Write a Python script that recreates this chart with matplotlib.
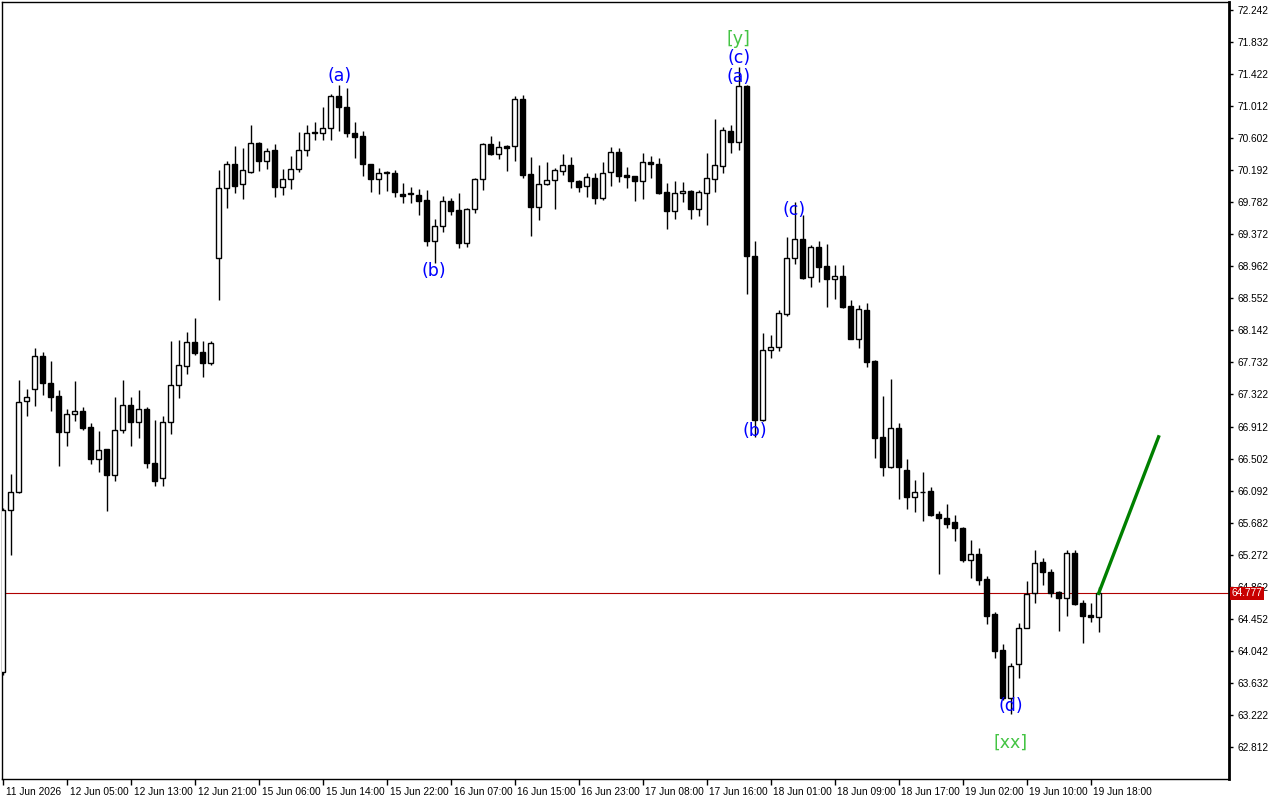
import numpy as np
import matplotlib as mpl
import matplotlib.pyplot as plt
import matplotlib.transforms as mtransforms

# Hourly candles, one per bar (bar 0 is the first candle at the left edge)
opens = [63.77, 65.84, 66.07, 67.24, 67.39, 67.81, 67.47, 67.30, 66.84, 67.07,
	67.11, 66.90, 66.50, 66.62, 66.29, 66.87, 67.19, 66.97, 67.13, 66.44,
	66.25, 66.97, 67.44, 67.69, 67.99, 67.86, 67.72, 69.07, 69.96, 70.27,
	70.01, 70.17, 70.54, 70.31, 70.45, 69.98, 70.08, 70.21, 70.45, 70.67,
	70.67, 70.73, 71.14, 71.00, 70.67, 70.63, 70.27, 70.08, 70.16, 70.16,
	69.89, 69.89, 69.87, 69.81, 69.29, 69.48, 69.80, 69.68, 69.26, 69.70,
	70.08, 70.53, 70.40, 70.50, 70.50, 71.10, 70.14, 69.72, 70.01, 70.07,
	70.18, 70.26, 70.05, 69.99, 70.09, 69.84, 70.17, 70.42, 70.13, 70.12,
	70.05, 70.30, 70.27, 69.91, 69.67, 69.90, 69.93, 69.70, 69.90, 70.08,
	70.25, 70.69, 70.55, 71.27, 69.10, 66.99, 67.89, 67.93, 68.35, 69.07,
	69.31, 68.82, 69.21, 68.97, 68.80, 68.84, 68.45, 68.03, 68.40, 67.75,
	66.78, 66.39, 66.89, 66.36, 66.01, 66.07, 66.09, 65.79, 65.74, 65.69,
	65.62, 65.21, 65.28, 64.96, 64.51, 64.05, 63.44, 63.87, 64.33, 64.78,
	65.18, 65.05, 64.79, 64.72, 65.30, 64.66, 64.50, 64.47]
highs = [65.87, 66.30, 67.51, 67.39, 67.92, 67.86, 67.75, 67.38, 67.13, 67.49,
	67.16, 66.96, 66.85, 66.63, 67.29, 67.51, 67.29, 67.38, 67.16, 66.99,
	67.05, 68.01, 68.02, 68.12, 68.30, 68.01, 68.01, 70.19, 70.31, 70.50,
	70.48, 70.77, 70.55, 70.48, 70.53, 70.21, 70.37, 70.68, 70.77, 70.81,
	71.00, 71.17, 71.28, 71.24, 70.81, 70.69, 70.27, 70.22, 70.18, 70.19,
	70.03, 69.98, 69.95, 69.94, 69.57, 69.86, 69.84, 69.90, 69.71, 70.09,
	70.54, 70.63, 70.57, 70.51, 71.14, 71.15, 70.36, 70.26, 70.30, 70.22,
	70.40, 70.36, 70.07, 70.16, 70.16, 70.30, 70.49, 70.48, 70.23, 70.12,
	70.41, 70.37, 70.35, 70.03, 70.05, 70.04, 69.94, 69.94, 70.41, 70.85,
	70.74, 70.77, 71.51, 71.28, 69.29, 68.11, 68.08, 68.40, 69.34, 69.78,
	69.62, 69.23, 69.29, 69.25, 68.98, 68.98, 68.53, 68.47, 68.49, 67.76,
	67.30, 67.52, 66.96, 66.50, 66.23, 66.33, 66.14, 65.83, 65.92, 65.78,
	65.63, 65.46, 65.36, 65.00, 64.54, 64.13, 63.88, 64.40, 64.93, 65.33,
	65.23, 65.09, 64.81, 65.33, 65.33, 64.69, 64.65, 64.86]
lows = [63.73, 65.27, 66.06, 67.05, 67.17, 67.31, 67.11, 66.41, 66.66, 66.98,
	66.87, 66.43, 66.33, 65.83, 66.21, 66.83, 66.66, 66.76, 66.38, 66.15,
	66.15, 66.82, 67.28, 67.58, 67.83, 67.54, 67.70, 68.53, 69.71, 69.90,
	69.82, 70.16, 70.18, 70.21, 69.85, 69.87, 69.95, 70.17, 70.37, 70.58,
	70.58, 70.58, 70.69, 70.62, 70.35, 70.12, 69.91, 69.89, 69.93, 69.85,
	69.77, 69.77, 69.62, 69.22, 69.00, 69.40, 69.62, 69.20, 69.21, 69.64,
	69.94, 70.39, 70.34, 70.18, 70.31, 70.09, 69.35, 69.55, 70.00, 69.70,
	70.13, 69.96, 69.91, 69.85, 69.76, 69.81, 69.99, 70.04, 69.96, 69.80,
	69.82, 70.09, 69.89, 69.44, 69.57, 69.78, 69.57, 69.61, 69.49, 69.91,
	70.16, 70.41, 70.45, 68.61, 66.78, 66.98, 67.79, 67.88, 68.33, 68.99,
	68.80, 68.70, 68.76, 68.44, 68.54, 68.43, 68.03, 67.92, 67.67, 66.51,
	66.28, 66.38, 65.98, 65.86, 65.82, 65.70, 65.77, 65.02, 65.61, 65.45,
	65.18, 64.98, 64.88, 64.38, 63.95, 63.41, 63.24, 63.70, 64.33, 64.66,
	64.88, 64.73, 64.29, 64.49, 64.63, 64.14, 64.41, 64.28]
closes = [65.84, 66.07, 67.22, 67.29, 67.81, 67.47, 67.29, 66.84, 67.07, 67.11,
	66.89, 66.50, 66.61, 66.29, 66.87, 67.19, 66.97, 67.13, 66.44, 66.21,
	66.97, 67.44, 67.70, 67.99, 67.85, 67.72, 67.98, 69.96, 70.27, 69.99,
	70.19, 70.54, 70.31, 70.44, 69.98, 70.08, 70.21, 70.45, 70.67, 70.68,
	70.73, 71.14, 71.00, 70.67, 70.62, 70.27, 70.08, 70.16, 70.16, 69.91,
	69.86, 69.89, 69.80, 69.29, 69.48, 69.80, 69.67, 69.26, 69.70, 70.08,
	70.53, 70.40, 70.49, 70.48, 71.10, 70.13, 69.72, 70.01, 70.07, 70.19,
	70.26, 70.05, 69.98, 70.10, 69.84, 70.16, 70.42, 70.12, 70.10, 70.05,
	70.30, 70.27, 69.90, 69.67, 69.90, 69.93, 69.70, 69.91, 70.09, 70.26,
	70.71, 70.55, 71.27, 69.09, 66.99, 67.89, 67.93, 68.36, 69.07, 69.31,
	68.81, 69.21, 68.95, 68.80, 68.84, 68.44, 68.03, 68.42, 67.74, 66.76,
	66.39, 66.89, 66.40, 66.01, 66.07, 66.07, 65.78, 65.74, 65.66, 65.61,
	65.21, 65.28, 64.95, 64.49, 64.04, 63.44, 63.85, 64.34, 64.77, 65.16,
	65.05, 64.78, 64.72, 65.30, 64.64, 64.49, 64.47, 64.777]

# Time axis labels, one every 8 bars
time_labels = ['11 Jun 2026', '12 Jun 05:00', '12 Jun 13:00', '12 Jun 21:00',
	'15 Jun 06:00', '15 Jun 14:00', '15 Jun 22:00', '16 Jun 07:00',
	'16 Jun 15:00', '16 Jun 23:00', '17 Jun 08:00', '17 Jun 16:00',
	'18 Jun 01:00', '18 Jun 09:00', '18 Jun 17:00', '19 Jun 02:00',
	'19 Jun 10:00', '19 Jun 18:00']
label_step = 8

# Price axis labels
price_ticks = [72.242, 71.832, 71.422, 71.012, 70.602, 70.192, 69.782, 69.372,
	68.962, 68.552, 68.142, 67.732, 67.322, 66.912, 66.502, 66.092, 65.682,
	65.272, 64.862, 64.452, 64.042, 63.632, 63.222, 62.812]
last_price = 64.777

# Wave labels: (text, bar, price, color)
wave_labels = [('(a)', 42.1, 71.40, 'blue'),
	('(b)', 53.9, 68.90, 'blue'),
	('[y]', 92.0, 71.87, '#44c444'),
	('(c)', 92.0, 71.63, 'blue'),
	('(a)', 92.0, 71.38, 'blue'),
	('(c)', 98.9, 69.68, 'blue'),
	('(b)', 94.0, 66.85, 'blue'),
	('(d)', 126.0, 63.33, 'blue'),
	('[xx]', 126.0, 62.86, '#44c444')]

# Projection line
proj_bars = [137, 144.5]
proj_prices = [64.777, 66.78]

mpl.rcParams['font.family'] = ['Liberation Sans', 'DejaVu Sans']

fig = plt.figure(figsize=(12.8, 8), dpi=100)
ax = fig.add_axes([2/1280, 21/800, 1227/1280, 777/800])

bars = np.arange(len(opens))
o = np.array(opens)
h = np.array(highs)
l = np.array(lows)
c = np.array(closes)
up = c >= o

# last price line
ax.axhline(last_price, color='#b00000', lw=0.8, zorder=1)

# wicks then bodies
ax.vlines(bars, l, h, color='black', lw=1.0, zorder=2)
body_bottom = np.minimum(o, c)
body_height = np.maximum(np.abs(c - o), 0.004)
ax.bar(bars[up], body_height[up], bottom=body_bottom[up], width=0.6,
	facecolor='white', edgecolor='black', linewidth=1.0, zorder=3)
ax.bar(bars[~up], body_height[~up], bottom=body_bottom[~up], width=0.6,
	facecolor='black', edgecolor='black', linewidth=1.0, zorder=3)

# projection
ax.plot(proj_bars, proj_prices, color='#008000', lw=2.4, zorder=4)

# wave labels
for txt, xb, yp, col in wave_labels:
	ax.text(xb, yp, txt, color=col, fontsize=12.5, ha='center', va='center',
		family='DejaVu Sans', zorder=5)

ax.set_xlim(-0.1, 153.3)
ax.set_ylim(62.402, 72.344)

# price axis on the right
ax.yaxis.tick_right()
ax.set_yticks(price_ticks)
ax.set_yticklabels(['%.3f' % p for p in price_ticks], fontsize=7.3)
ax.tick_params(axis='y', direction='out', length=3, width=1, pad=3)

# time axis
ax.set_xticks(bars[::label_step])
ax.set_xticklabels(time_labels, fontsize=7.3)
ax.tick_params(axis='x', direction='out', length=4, width=1, pad=2)
shift = mtransforms.ScaledTranslation(2/72, 0, fig.dpi_scale_trans)
for lab in ax.get_xticklabels():
	lab.set_horizontalalignment('left')
	lab.set_transform(lab.get_transform() + shift)

for side in ['left', 'top', 'bottom']:
	ax.spines[side].set_linewidth(1.0)
ax.spines['right'].set_linewidth(2.0)

# current price tag
ax.annotate('%.3f' % last_price, xy=(1.0, last_price),
	xycoords=('axes fraction', 'data'), xytext=(2, 0), textcoords='offset points',
	ha='left', va='center', fontsize=7.3, color='white', zorder=10,
	annotation_clip=False,
	bbox=dict(boxstyle='square,pad=0.15', facecolor='#c80000', edgecolor='none'))

fig.savefig('out.png', dpi=100)
